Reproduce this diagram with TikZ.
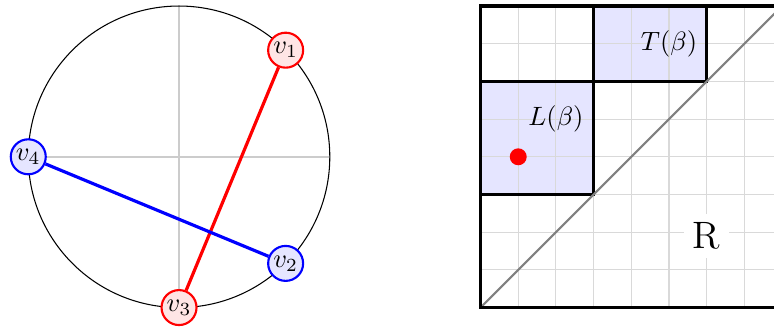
\documentclass[tikz,border=0pt]{standalone}
\usepackage{tikz}
\usetikzlibrary{positioning}

\begin{document}
\begin{tikzpicture}[scale=0.5,
    vtx/.style={circle, thick, inner sep=0.8pt, minimum size=13pt},
    redvtx/.style={vtx, draw=red, fill=red!10},
    bluevtx/.style={vtx, draw=blue, fill=blue!10},
    chord/.style={very thick},
    axisline/.style={gray!40, thick},
    region/.style={fill=blue!10},
    regionedge/.style={draw=black, very thick},
    gridline/.style={gray!30, thin}
]

% picture frame
\clip (-12.75,-0.565) rectangle (7.785,8.16);

% Circle with chords
\begin{scope}[shift={(-8,4)}]
\draw[axisline] (-4,0) -- (4,0);
\draw[axisline] (0,-4) -- (0,4);
\draw (0,0) circle (4);
\node[redvtx] (v1) at (45:4) {$v_1$};
\node[bluevtx] (v2) at (-45:4) {$v_2$};
\node[redvtx] (v3) at (-90:4) {$v_3$};
\node[bluevtx] (v4) at (180:4) {$v_4$};
\end{scope}
\draw[chord, red] (v1) -- (v3);
\draw[chord, blue] (v4) -- (v2);

% Grid panel
\fill[region] (0,3) rectangle (3,6);
\fill[region] (3,6) rectangle (6,8);
\draw[gridline] (0,0) grid (8,8);
\draw[regionedge] (0,3) rectangle (3,6);
\draw[regionedge] (3,6) rectangle (6,8);
\draw[gray, thick] (0,0) -- (8,8);
\fill[red] (1,4) circle (6.4pt);
\node (lbeta) at (2,5) {$L(\beta)$};
\node (tbeta) at (5,7) {$T(\beta)$};
\node[fill=white, font=\Large] (rlabel) at (6,1.9) {R};
\draw[very thick] (0,0) rectangle (8,8);

\end{tikzpicture}
\end{document}
